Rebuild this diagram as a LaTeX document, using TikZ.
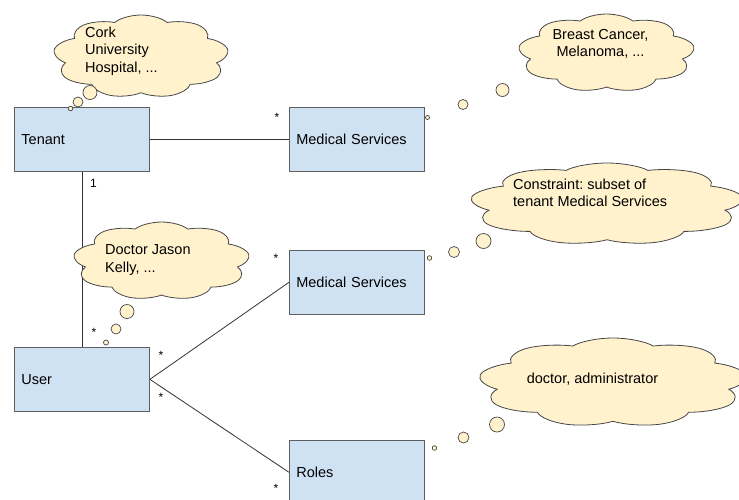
\documentclass[tikz,border=0pt]{standalone}
\usepackage{fontspec}
\setmainfont{Liberation Sans}
\usetikzlibrary{shapes.symbols,positioning}
\definecolor{umlBlue}{RGB}{207,226,243}
\definecolor{umlLine}{RGB}{95,95,95}
\definecolor{noteYellow}{RGB}{255,242,204}
\definecolor{noteLine}{RGB}{70,70,70}
\frenchspacing

\begin{document}
\begin{tikzpicture}[
  x=1pt, y=-1pt,
  font=\fontsize{14.5}{17}\selectfont,
  box/.style={draw=umlLine, fill=umlBlue, line width=0.9pt, minimum width=135pt, minimum height=64pt, text width=121pt, inner xsep=7pt, align=left},
  thought/.style={cloud, cloud puffs=9, cloud puff arc=125, cloud ignores aspect, draw=noteLine, fill=noteYellow, line width=0.8pt, inner sep=0pt, transform shape},
  note/.style={inner sep=0pt, font=\fontsize{14.5}{17.5}\selectfont},
  mult/.style={inner sep=0pt, font=\fontsize{12}{14}\selectfont},
  puff/.style={draw=noteLine, fill=noteYellow, line width=0.7pt},
  ln/.style={draw=black!80, line width=0.8pt}
]
\useasboundingbox (0,0) rectangle (739,499);

% classes
\node[box, anchor=north west] (tenant) at (14,107) {Tenant};
\node[box, right=139pt of tenant] (ms1) {Medical Services};
\node[box, below=78pt of ms1] (ms2) {Medical Services};
\node[box, below=175pt of tenant] (user) {User};
\node[box, below=125pt of ms2] (roles) {Roles};

% associations
\draw[ln] (tenant) -- (ms1);
\draw[ln] (tenant) -- (user);
\draw[ln] (user.east) -- (ms2.west);
\draw[ln] (user.east) -- (roles.west);

% multiplicities
\node[mult] (m1) at (277,117) {*};
\node[mult] (m2) at (93.5,183) {1};
\node[mult] (m3) at (94,332) {*};
\node[mult] (m4) at (161,355) {*};
\node[mult] (m5) at (276,258) {*};
\node[mult] (m6) at (161,397) {*};
\node[mult] (m7) at (276,488) {*};

% thought clouds (round cloud stretched sideways)
\node[thought, shift={(141,56.5)}, xscale=2.12, minimum size=83pt] (c1) {};
\node[thought, shift={(606.5,53)}, xscale=2.27, minimum size=78pt] (c2) {};
\node[thought, shift={(607,204)}, xscale=3.35, minimum size=82pt] (c3) {};
\node[thought, shift={(161.5,261)}, xscale=2.27, minimum size=78pt] (c4) {};
\node[thought, shift={(613,382.5)}, xscale=3.03, minimum size=89pt] (c5) {};

\node[note, anchor=west, align=left] (n1) at (85,51) {Cork\\University\\Hospital, ...};
\node[note, align=center] (n2) at (600.5,44) {Breast Cancer,\\Melanoma, ...};
\node[note, anchor=west, align=left] (n3) at (513,193) {Constraint: subset of\\tenant Medical Services};
\node[note, anchor=west, align=left] (n4) at (105,260) {Doctor Jason\\Kelly, ...};
\node[note] (n5) at (592.5,379) {doctor, administrator};

\foreach \x/\y/\r in {90/92.5/7, 78/102/5, 70.5/108.5/2.3,
  502.5/90/6.5, 463/104.5/5, 427.5/117.5/2,
  483.5/241/7.5, 454/252/5.5, 429.5/258/2.3,
  127/311.5/7, 116/329/5, 106/342.5/2.5,
  497/424.5/7.5, 463.5/437.5/5.5, 434.5/448/2.3}
  \draw[puff] (\x,\y) circle (\r);
\end{tikzpicture}
\end{document}
